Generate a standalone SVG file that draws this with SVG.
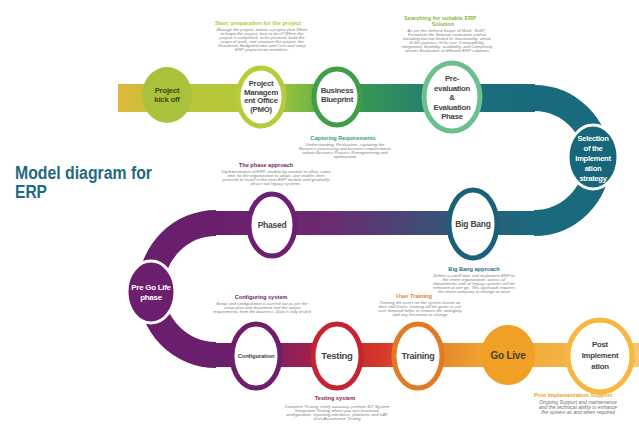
<svg xmlns="http://www.w3.org/2000/svg" width="639" height="428" viewBox="0 0 639 428">
<style>
.lbl{font-family:"Liberation Sans",Arial,sans-serif;font-weight:bold;font-size:7.8px;letter-spacing:-0.25px;fill:#444;text-anchor:middle}
.lblw{font-family:"Liberation Sans",Arial,sans-serif;font-weight:bold;font-size:7.6px;letter-spacing:-0.3px;fill:#fff;text-anchor:middle}
.hd{font-family:"Liberation Sans",Arial,sans-serif;font-weight:bold;font-size:5.6px;text-anchor:middle}
.bd{font-family:"Liberation Sans",Arial,sans-serif;font-style:italic;font-size:4.3px;fill:#808080;text-anchor:middle}
.ring{fill:#fff;stroke-width:5}
.band{fill:none}
.title{font-family:"Liberation Sans",Arial,sans-serif;font-weight:bold;font-size:18px;fill:#1f6a80}
</style>
<defs>
<linearGradient id="gTop" gradientUnits="userSpaceOnUse" x1="118" y1="0" x2="535" y2="0">
<stop offset="0" stop-color="#e0b83a"/>
<stop offset="0.12" stop-color="#b8c43a"/>
<stop offset="0.34" stop-color="#b5c83a"/>
<stop offset="0.45" stop-color="#7cb942"/>
<stop offset="0.52" stop-color="#3f9e48"/>
<stop offset="0.7" stop-color="#2b8666"/>
<stop offset="0.82" stop-color="#1c707c"/>
<stop offset="1" stop-color="#186a7c"/>
</linearGradient>
<linearGradient id="gMid" gradientUnits="userSpaceOnUse" x1="215" y1="0" x2="535" y2="0">
<stop offset="0" stop-color="#6a1f6c"/>
<stop offset="0.35" stop-color="#6b2a70"/>
<stop offset="0.7" stop-color="#3a5278"/>
<stop offset="1" stop-color="#186a7c"/>
</linearGradient>
<linearGradient id="gBot" gradientUnits="userSpaceOnUse" x1="215" y1="0" x2="639" y2="0">
<stop offset="0" stop-color="#6a1f6c"/>
<stop offset="0.12" stop-color="#761e64"/>
<stop offset="0.24" stop-color="#a8204a"/>
<stop offset="0.29" stop-color="#c42030"/>
<stop offset="0.4" stop-color="#d63a28"/>
<stop offset="0.48" stop-color="#e3782a"/>
<stop offset="0.62" stop-color="#efa030"/>
<stop offset="0.74" stop-color="#f2aa36"/>
<stop offset="1" stop-color="#f7c870"/>
</linearGradient>
</defs>
<rect width="639" height="428" fill="#fff"/>

<g id="title">
<text class="title" x="15" y="179" textLength="137" lengthAdjust="spacingAndGlyphs">Model diagram for</text>
<text class="title" x="15" y="198" textLength="32" lengthAdjust="spacingAndGlyphs">ERP</text>
</g>

<g id="connectors">
<path class="band" d="M118,98 H535" stroke="url(#gTop)" stroke-width="28"/>
<path class="band" d="M534,98 A63,62.5 0 0 1 534,223" stroke="#186a7c" stroke-width="26"/>
<path class="band" d="M536,223 H215" stroke="url(#gMid)" stroke-width="24"/>
<path class="band" d="M216,223 A65,66 0 0 0 216,355" stroke="#6a1f6c" stroke-width="26"/>
<path class="band" d="M215,355 H639" stroke="url(#gBot)" stroke-width="24"/>
</g>

<g id="kickoff">
<ellipse cx="167" cy="95" rx="25" ry="28" fill="#a9c23c"/>
<text class="lbl" x="167" y="93" style="fill:#3d4a1a">Project</text>
<text class="lbl" x="167" y="102" style="fill:#3d4a1a">kick off</text>
</g>
<g id="pmo">
<ellipse class="ring" cx="261" cy="97" rx="23" ry="29" stroke="#b9cb3a"/>
<text class="lbl" x="261" y="86">Project</text>
<text class="lbl" x="261" y="94.5">Managem</text>
<text class="lbl" x="261" y="103">ent Office</text>
<text class="lbl" x="261" y="111.5">(PMO)</text>
</g>
<g id="blueprint">
<ellipse class="ring" cx="337" cy="97" rx="23" ry="28" stroke="#3f9e48"/>
<text class="lbl" x="337" y="93">Business</text>
<text class="lbl" x="337" y="102">Blueprint</text>
</g>
<g id="preeval">
<ellipse class="ring" cx="452" cy="97" rx="28" ry="34" stroke="#6cbf8e"/>
<text class="lbl" x="452" y="81">Pre-</text>
<text class="lbl" x="452" y="90.5">evaluation</text>
<text class="lbl" x="452" y="100">&amp;</text>
<text class="lbl" x="452" y="109.5">Evaluation</text>
<text class="lbl" x="452" y="119">Phase</text>
</g>
<g id="selection">
<ellipse cx="593" cy="157" rx="25" ry="32" fill="#17677a" stroke="#fff" stroke-width="3"/>
<text class="lblw" x="593" y="141">Selection</text>
<text class="lblw" x="593" y="151">of the</text>
<text class="lblw" x="593" y="161">Implement</text>
<text class="lblw" x="593" y="171">ation</text>
<text class="lblw" x="593" y="181">strategy</text>
</g>
<g id="bigbang">
<ellipse class="ring" cx="473" cy="224" rx="24" ry="34" stroke="#1c5f78"/>
<text class="lbl" x="473" y="227" style="font-size:8.5px">Big Bang</text>
</g>
<g id="phased">
<ellipse class="ring" cx="272" cy="225" rx="23" ry="31" stroke="#6b2070"/>
<text class="lbl" x="272" y="228" style="font-size:8.5px">Phased</text>
</g>
<g id="pregolife">
<ellipse cx="151" cy="292" rx="24" ry="31" fill="#6b1f6e" stroke="#fff" stroke-width="3"/>
<text class="lblw" x="151" y="290" style="font-size:8px">Pre Go Life</text>
<text class="lblw" x="151" y="300" style="font-size:8px">phase</text>
</g>
<g id="configuration">
<ellipse class="ring" cx="256" cy="356" rx="24" ry="32" stroke="#6d1f6b"/>
<text class="lbl" x="256" y="358" style="font-size:5.8px;letter-spacing:-0.1px">Configuration</text>
</g>
<g id="testing">
<ellipse class="ring" cx="337" cy="356" rx="24" ry="32" stroke="#c4232f"/>
<text class="lbl" x="337" y="359" style="font-size:9.5px">Testing</text>
</g>
<g id="training">
<ellipse class="ring" cx="418" cy="356" rx="24" ry="32" stroke="#e27a24"/>
<text class="lbl" x="418" y="359" style="font-size:9px">Training</text>
</g>
<g id="golive">
<ellipse cx="508" cy="355" rx="27" ry="30" fill="#f0a024"/>
<text class="lbl" x="508" y="359" style="font-size:10px;fill:#4a3f2a">Go Live</text>
</g>
<g id="postimpl">
<ellipse class="ring" cx="600" cy="356" rx="32" ry="36" stroke="#f6b840"/>
<text class="lbl" x="600" y="347">Post</text>
<text class="lbl" x="600" y="358">Implement</text>
<text class="lbl" x="600" y="369">ation</text>
</g>

<g id="notes">
<text class="hd" x="258" y="25" fill="#b8c832">Start: preparation for the project</text>
<text class="bd" x="262" y="31">Manage the project, initiate a project plan When</text>
<text class="bd" x="262" y="35">to begin the project, how to do it? When the</text>
<text class="bd" x="262" y="39">project is completed, to be planned, build the</text>
<text class="bd" x="262" y="43">scope of work, and structure the project, the</text>
<text class="bd" x="262" y="47">Document, Budgeted time and Cost and setup</text>
<text class="bd" x="262" y="51">ERP project team members.</text>

<text class="hd" x="440" y="20" fill="#8ab83a">Searching for suitable ERP</text>
<text class="hd" x="443" y="26" fill="#8ab83a">Solution</text>
<text class="bd" x="447" y="32">As per the defined Scope of Work "SoW",</text>
<text class="bd" x="447" y="36">Formulate the Solution evaluation criteria</text>
<text class="bd" x="447" y="40">including but not limited to: functionality, check</text>
<text class="bd" x="447" y="44">fit the purpose, fit for use, Compatibility,</text>
<text class="bd" x="447" y="48">integration, flexibility, scalability, and Complexity</text>
<text class="bd" x="447" y="52">checks Evaluation of different ERP solutions</text>

<text class="hd" x="343" y="140" fill="#3aa070">Capturing Requirements</text>
<text class="bd" x="345" y="146">Understanding, Realization, capturing the</text>
<text class="bd" x="345" y="150">Business processing and business requirements</text>
<text class="bd" x="345" y="154">initiate Business Process Reengineering and</text>
<text class="bd" x="345" y="158">optimization</text>

<text class="hd" x="266" y="167" fill="#6b1e6b">The phase approach</text>
<text class="bd" x="276" y="173">Implementation of ERP, module by module to allow, some</text>
<text class="bd" x="276" y="177">time for the organization to adapt, and enable, then</text>
<text class="bd" x="276" y="181">proceed to install of the next ERP module until gradually</text>
<text class="bd" x="276" y="185">phase out legacy systems.</text>

<text class="hd" x="474" y="271" fill="#1d6e80">Big Bang approach</text>
<text class="bd" x="474" y="277">Define a cutoff date and implement ERP to</text>
<text class="bd" x="474" y="281">the entire organization, across all</text>
<text class="bd" x="474" y="285">departments and all legacy systems will be</text>
<text class="bd" x="474" y="289">removed at one go. This approach requires</text>
<text class="bd" x="474" y="293">the entire company to change at once</text>

<text class="hd" x="414" y="298" fill="#e08030">User Training</text>
<text class="bd" x="420" y="304">Training the users on the system based on</text>
<text class="bd" x="420" y="308">their skill levels, training will be given as per</text>
<text class="bd" x="420" y="312">user demand helps to remove the ambiguity</text>
<text class="bd" x="420" y="316">and any hesitation to change</text>

<text class="hd" x="261" y="299" fill="#6b1e6b">Configuring system</text>
<text class="bd" x="262" y="305">Setup and configuration is carried out as per the</text>
<text class="bd" x="262" y="309">setup plan and document and the actual</text>
<text class="bd" x="262" y="313">requirements from the business. Data is fully tested</text>

<text class="hd" x="335" y="400" fill="#8a2050">Testing system</text>
<text class="bd" x="337" y="408">Complete Testing, verify accuracy, perform SIT System</text>
<text class="bd" x="337" y="412">Integration Testing where you test functional</text>
<text class="bd" x="337" y="416">configuration, reporting interfaces, platforms and UAT</text>
<text class="bd" x="337" y="420">User Acceptance Testing</text>

<text class="hd" x="573" y="397" fill="#e8a030">Post Implementation Support</text>
<text class="bd" x="578" y="404" style="font-size:5px;fill:#707070">Ongoing Support and maintenance</text>
<text class="bd" x="578" y="409" style="font-size:5px;fill:#707070">and the technical ability to enhance</text>
<text class="bd" x="578" y="414" style="font-size:5px;fill:#707070">the system as and when required</text>
</g>
</svg>
